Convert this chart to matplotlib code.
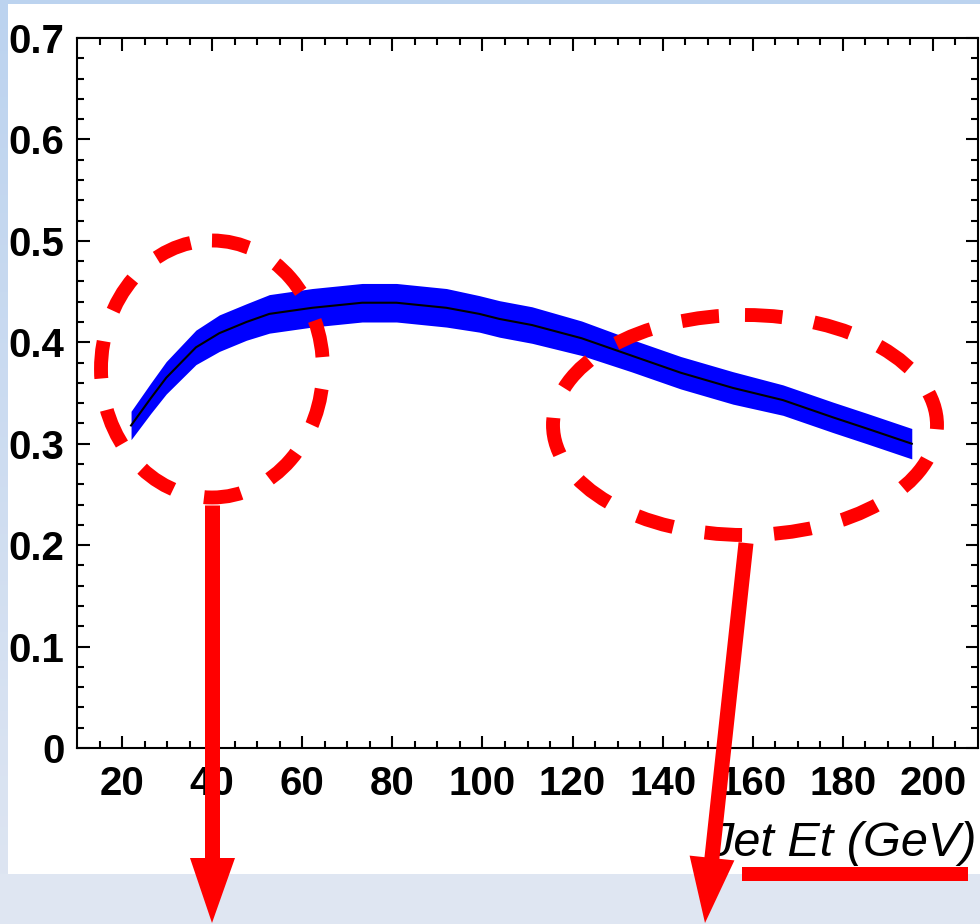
import numpy as np
import matplotlib
matplotlib.use("Agg")
import matplotlib.pyplot as plt
from matplotlib.patches import Ellipse, Polygon, Rectangle

# data
jet_et = [22.0, 26.4, 29.8, 36.4, 41.6, 47.6, 52.7, 62.2, 73.3, 80.9, 92.0, 99.3,
          103.8, 111.0, 122.0, 133.0, 144.0, 155.6, 166.7, 177.8, 185.3, 195.3]
center = [0.318, 0.345, 0.365, 0.395, 0.409, 0.420, 0.428, 0.434, 0.439, 0.439, 0.434, 0.428,
          0.423, 0.417, 0.404, 0.387, 0.370, 0.355, 0.343, 0.326, 0.315, 0.300]
lower = [0.304, 0.330, 0.349, 0.378, 0.391, 0.402, 0.409, 0.415, 0.420, 0.420, 0.415, 0.410,
         0.405, 0.399, 0.387, 0.371, 0.354, 0.339, 0.328, 0.311, 0.300, 0.285]
upper = [0.332, 0.360, 0.381, 0.412, 0.427, 0.438, 0.447, 0.453, 0.458, 0.458, 0.453, 0.446,
         0.441, 0.435, 0.421, 0.403, 0.386, 0.371, 0.358, 0.341, 0.330, 0.315]
x_ticks = [20, 40, 60, 80, 100, 120, 140, 160, 180, 200]
y_ticks = [0, 0.1, 0.2, 0.3, 0.4, 0.5, 0.6, 0.7]
y_ticklabels = ['0', '0.1', '0.2', '0.3', '0.4', '0.5', '0.6', '0.7']

plt.rcParams['font.family'] = ['Liberation Sans', 'DejaVu Sans']

W, H = 980, 924
fig = plt.figure(figsize=(W / 100, H / 100), dpi=100)

# slide background: light blue gradient with a white panel
bg = fig.add_axes([0, 0, 1, 1], zorder=-1)
grad = np.linspace(0, 1, 256).reshape(-1, 1)
top_c = np.array([188, 211, 239]) / 255
bot_c = np.array([223, 230, 242]) / 255
img = top_c + (bot_c - top_c) * grad[..., None]
bg.imshow(img, extent=[0, W, H, 0], aspect='auto')
bg.add_patch(Rectangle((8, 4), W - 8, 870, facecolor='white', edgecolor='none'))
bg.add_patch(Rectangle((0, 874), W, H - 874, facecolor='#dfe6f2', edgecolor='none'))
bg.set_xlim(0, W)
bg.set_ylim(H, 0)
bg.axis('off')

# main plot
ax = fig.add_axes([77 / W, (H - 748) / H, (978 - 77) / W, (748 - 38) / H])
ax.set_facecolor('none')
ax.fill_between(jet_et, lower, upper, color='#0000ff', lw=0)
ax.plot(jet_et, center, color='black', lw=1.5)

ax.set_xlim(10, 210)
ax.set_ylim(0, 0.7)
ax.set_xticks(x_ticks)
ax.set_xticks(np.arange(15, 210, 5), minor=True)
ax.set_yticks(y_ticks)
ax.set_yticklabels(y_ticklabels)
ax.set_yticks(np.arange(0, 0.7, 0.02), minor=True)
ax.tick_params(which='both', direction='in', top=True, right=True, width=1.5, color='black')
ax.tick_params(which='major', length=9)
ax.tick_params(which='minor', length=5)
ax.tick_params(axis='x', which='major', pad=12, labelsize=29)
ax.tick_params(axis='y', which='major', pad=9, labelsize=29)
for lab in ax.get_xticklabels() + ax.get_yticklabels():
    lab.set_fontweight('bold')
for sp in ax.spines.values():
    sp.set_linewidth(1.5)

ax.set_xlabel('Jet Et (GeV)', fontsize=35, fontstyle='italic', ha='right', va='baseline')
ax.xaxis.set_label_coords((977 - 77) / (978 - 77), (748 - 856) / (748 - 38))

# red annotations on top, in pixel coordinates
ov = fig.add_axes([0, 0, 1, 1], zorder=5)
ov.set_xlim(0, W)
ov.set_ylim(H, 0)
ov.patch.set_alpha(0)
ov.axis('off')

red = '#ff0000'
dash = (0, (2.7, 2.3))
ov.add_patch(Ellipse((212, 369), 222, 257, fill=False, edgecolor=red, lw=10, linestyle=dash))
ov.add_patch(Ellipse((745, 425), 384, 220, fill=False, edgecolor=red, lw=10, linestyle=dash))

ov.plot([212, 212], [505, 862], color=red, lw=10.8, solid_capstyle='butt')
ov.add_patch(Polygon([(190, 858), (235, 858), (212, 923)], closed=True, color=red, lw=0))
ov.plot([746, 711.5], [543, 862], color=red, lw=10.8, solid_capstyle='butt')
ov.add_patch(Polygon([(689.6, 855.6), (734.4, 860.4), (705, 923)], closed=True, color=red, lw=0))

ov.add_patch(Rectangle((742, 867), 226, 14, facecolor=red, edgecolor='none'))

fig.savefig('out.png', dpi=100)
